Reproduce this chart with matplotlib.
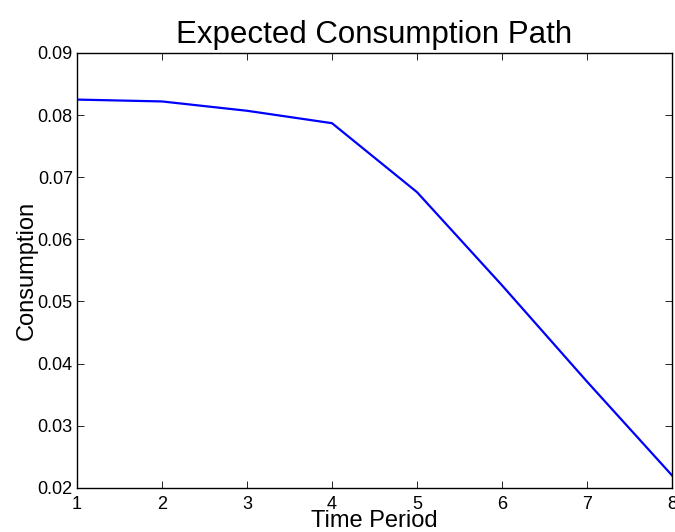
import matplotlib

matplotlib.use("Agg")
import matplotlib.pyplot as plt

periods = [1, 2, 3, 4, 5, 6, 7, 8]
consumption = [0.0825, 0.0822, 0.0807, 0.0787, 0.0676, 0.0526, 0.0371, 0.0220]
yticks = [0.02, 0.03, 0.04, 0.05, 0.06, 0.07, 0.08, 0.09]

plt.rcParams["font.family"] = ["Liberation Sans", "DejaVu Sans"]

fig = plt.figure(figsize=(6.75, 5.32), dpi=100)
ax = fig.add_axes([0.114, 0.083, 0.8816, 0.8174])
ax.plot(periods, consumption, color="#0000ff", linewidth=1.6)

ax.set_xlim(1, 8)
ax.set_ylim(0.02, 0.09)
ax.set_xticks(periods)
ax.set_yticks(yticks)
ax.set_yticklabels([f"{v:.2f}" for v in yticks])
ax.tick_params(direction="in", top=True, right=True, labelsize=13,
               length=5, width=0.6)
ax.tick_params(axis="x", pad=6)
ax.tick_params(axis="y", pad=3)
for spine in ax.spines.values():
    spine.set_linewidth(1.0)

ax.set_title("Expected Consumption Path", fontsize=22.5, pad=7)
ax.set_xlabel("Time Period", fontsize=17, labelpad=-2)
ax.set_ylabel("Consumption", fontsize=17, labelpad=0)

fig.savefig("out.png", dpi=100, facecolor="white")
